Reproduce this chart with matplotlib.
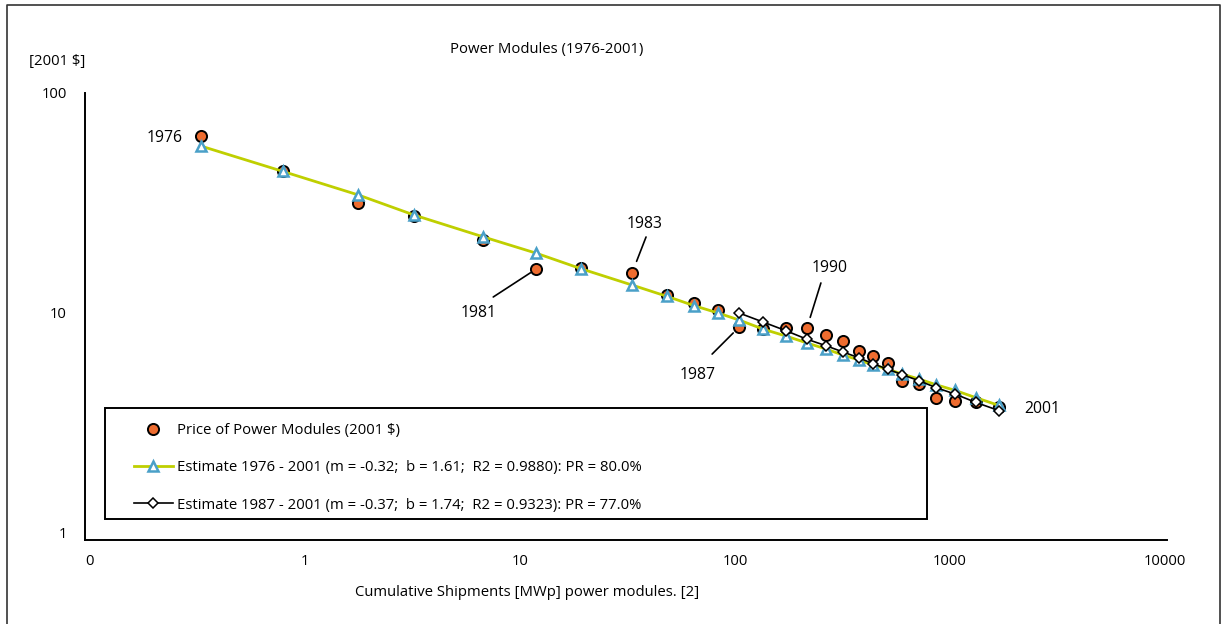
import numpy as np
import matplotlib
matplotlib.use("Agg")
import matplotlib.pyplot as plt
from matplotlib.patches import Rectangle
from matplotlib.lines import Line2D
from matplotlib.ticker import FixedLocator, FixedFormatter, NullLocator

plt.rcParams['font.family'] = ['Open Sans', 'DejaVu Sans']
plt.rcParams['font.size'] = 10.7

# data
years = list(range(1976, 2002))
cum_shipments = [0.328, 0.79, 1.77, 3.21, 6.73, 11.9, 19.2, 33.2, 48.3, 64.5, 83.4,
                 104.5, 135, 173, 216, 265, 318, 378, 438, 515, 598, 718, 861,
                 1055, 1321, 1690]
price = [63.8, 44.2, 31.6, 27.6, 21.5, 15.85, 16.0, 15.2, 12.1, 11.1, 10.3, 8.63,
         8.45, 8.55, 8.55, 7.94, 7.46, 6.72, 6.38, 5.93, 4.91, 4.75, 4.11, 3.98,
         3.94, 3.73]
est_1976 = [57.4, 44.0, 34.4, 27.9, 22.2, 18.7, 15.9, 13.4, 11.9, 10.8, 10.0, 9.29,
            8.45, 7.85, 7.31, 6.86, 6.44, 6.11, 5.81, 5.55, 5.28, 5.01, 4.72, 4.45,
            4.12, 3.8]
est_1987 = [10.0, 9.1, 8.3, 7.6, 7.1, 6.65, 6.25, 5.88, 5.55, 5.25, 4.92, 4.58,
            4.28, 3.92, 3.6]
start_1987 = years.index(1987)

x_ticks = [0.1, 1, 10, 100, 1000, 10000]
x_tick_labels = ['0', '1', '10', '100', '1000', '10000']
y_ticks = [1, 10, 100]
y_tick_labels = ['1', '10', '100']

label_price = 'Price of Power Modules (2001 $)'
label_est1 = 'Estimate 1976 - 2001 (m = -0.32;  b = 1.61;  R2 = 0.9880): PR = 80.0%'
label_est2 = 'Estimate 1987 - 2001 (m = -0.37;  b = 1.74;  R2 = 0.9323): PR = 77.0%'

W, H = 1230, 624
fig = plt.figure(figsize=(W / 100, H / 100), dpi=100)

# axes box in pixels: left 85, right 1167, top 93, bottom 540
ax = fig.add_axes([85 / W, 1 - 540 / H, (1167 - 85) / W, (540 - 93) / H])
ax.set_xscale('log')
ax.set_yscale('log')
ax.set_xlim(10 ** (-220 / 215), 10 ** (862 / 215))
ax.set_ylim(10 ** (-7 / 220), 100)

orange = '#EE6C2F'
teal = '#4AA0C8'
lime = '#BFCF00'

ax.plot(cum_shipments, price, linestyle='none', marker='o', markersize=8,
        markerfacecolor=orange, markeredgecolor='black', markeredgewidth=1.4,
        label=label_price, zorder=3)
ax.plot(cum_shipments, est_1976, color=lime, linewidth=2, marker='^', markersize=6.5,
        markerfacecolor='white', markeredgecolor=teal, markeredgewidth=1.8,
        label=label_est1, zorder=4)
ax.plot(cum_shipments[start_1987:], est_1987, color='black', linewidth=1.2, marker='D',
        markersize=5, markerfacecolor='white', markeredgecolor='black',
        markeredgewidth=1.1, label=label_est2, zorder=5)

for s in ['top', 'right']:
    ax.spines[s].set_visible(False)
for s in ['left', 'bottom']:
    ax.spines[s].set_linewidth(1.4)

ax.xaxis.set_major_locator(FixedLocator(x_ticks))
ax.xaxis.set_major_formatter(FixedFormatter(x_tick_labels))
ax.xaxis.set_minor_locator(NullLocator())
ax.yaxis.set_major_locator(FixedLocator(y_ticks))
ax.yaxis.set_major_formatter(FixedFormatter(y_tick_labels))
ax.yaxis.set_minor_locator(NullLocator())
ax.tick_params(axis='x', length=0, pad=10)
ax.tick_params(axis='y', length=0, pad=13)

# year labels with leader lines
def year_label(year, text_off, line_start=None, gap=0):
    i = years.index(year)
    pt = (cum_shipments[i], price[i])
    if line_start is not None:
        ax.annotate('', xy=pt, xytext=line_start, textcoords='offset pixels',
                    arrowprops=dict(arrowstyle='-', color='black', lw=1.2,
                                    shrinkA=0, shrinkB=gap))
    ax.annotate(str(year), xy=pt, xytext=text_off, textcoords='offset pixels',
                ha='center', va='center', fontsize=11.3)

year_label(1976, (-36, -2))
year_label(1981, (-58, -44), (-43, -28), 5)
year_label(1983, (13, 49), (14, 36), 9)
year_label(1987, (-41, -48), (-27, -27), 6)
year_label(1990, (23, 60), (14, 45), 8)
year_label(2001, (43, -2))

# legend with a plain rectangular frame
fig.patches.append(Rectangle((105 / W, 1 - 519 / H), (927 - 105) / W, (519 - 408) / H,
                             transform=fig.transFigure, fill=False,
                             edgecolor='black', linewidth=1.4))
fig.legend(loc='upper left', bbox_to_anchor=(134 / W, 1 - 423 / H), frameon=False,
           handlelength=2.6, handletextpad=0.3, labelspacing=1.5,
           borderpad=0, borderaxespad=0)

fig.text(547 / W, 1 - 49 / H, 'Power Modules (1976-2001)', ha='center', va='center')
fig.text(57 / W, 1 - 62 / H, '[2001 $]', ha='center', va='center')
fig.text(527 / W, 1 - 592 / H, 'Cumulative Shipments [MWp] power modules. [2]',
         ha='center', va='center')

# outer frame (left, top and right edges)
fx = [7 / W, 7 / W, 1220 / W, 1220 / W]
fy = [0, 1 - 5 / H, 1 - 5 / H, 0]
fig.lines.append(Line2D(fx, fy, transform=fig.transFigure, color='#333333', linewidth=1.2))

fig.savefig('out.png', dpi=100)
